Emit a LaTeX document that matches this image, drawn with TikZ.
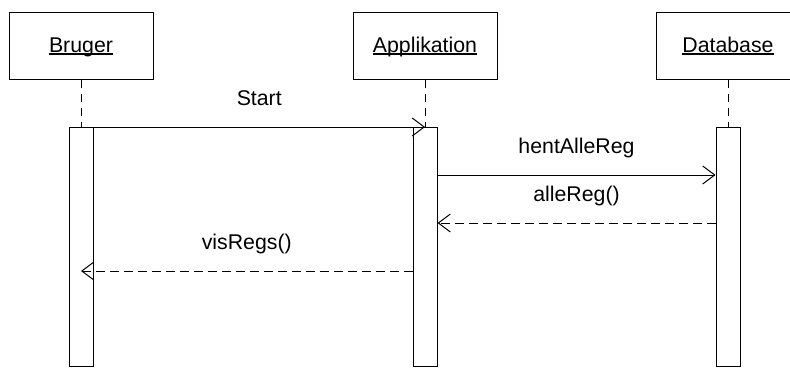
\documentclass[tikz,border=0pt]{standalone}
\usepackage{fontspec}
\setmainfont{Liberation Sans}
\usepackage{tikz}
\usetikzlibrary{shapes,arrows.meta}
\usetikzlibrary{positioning}
\newcommand{\objname}[1]{\setbox0\hbox{#1}\rlap{\rule[-2.6pt]{\wd0}{1.3pt}}\box0}
\tikzstyle{object} = [rectangle, draw, line width=1pt, minimum width=144pt, minimum height=67pt, inner sep=0pt, text height=16pt, text depth=3pt]
\tikzstyle{bar} = [rectangle, draw, fill=white, line width=1pt, minimum width=24pt, minimum height=239pt, inner sep=0pt, anchor=north]
\tikzstyle{lifeline} = [line width=1pt, dash pattern=on 8pt off 6pt]
\tikzstyle{call} = [line width=1pt, -{Straight Barb[length=12pt, width=18pt]}]
\tikzstyle{reply} = [call, dash pattern=on 9pt off 5pt]
\tikzstyle{msg} = [midway, anchor=base, yshift=22pt, inner sep=0pt]

\begin{document}
\begin{tikzpicture}[x=1pt, y=-1pt, every node/.style={font=\fontsize{21.3}{25}\selectfont}]
   \clip (0,0) rectangle (790,367);
   % Place objects
   \node [object] (bruger) at (81,45.5) {\objname{Bruger}};
   \node [object] (app) at (425,45.5) {\objname{Applikation}};
   \node [object] (db) at (728,45.5) {\objname{Database}};
   % Activation bars
   \node [bar] (bBar) at (81,127) {};
   \node [bar] (aBar) at (425,127) {};
   \node [bar] (dBar) at (728,127) {};
   % Lifelines
   \draw [lifeline] (bruger) -- (bBar);
   \draw [lifeline] (app) -- (aBar);
   \draw [lifeline] (db) -- (dBar);
   % Message levels
   \coordinate (m2) at (0,175);
   \coordinate (m3) at (0,223);
   \coordinate (m4) at (0,271);
   \draw [call] (bBar.north east) -- node [msg] {Start} (aBar.north);
   \draw [call] (aBar.east |- m2) -- node [msg] {hentAlleReg} (dBar.west |- m2);
   \draw [reply] (dBar.west |- m3) -- node [msg] {alleReg()} (aBar.east |- m3);
   \draw [reply] (aBar.west |- m4) -- node [msg] {visRegs()} (bBar.center |- m4);
\end{tikzpicture}
\end{document}
